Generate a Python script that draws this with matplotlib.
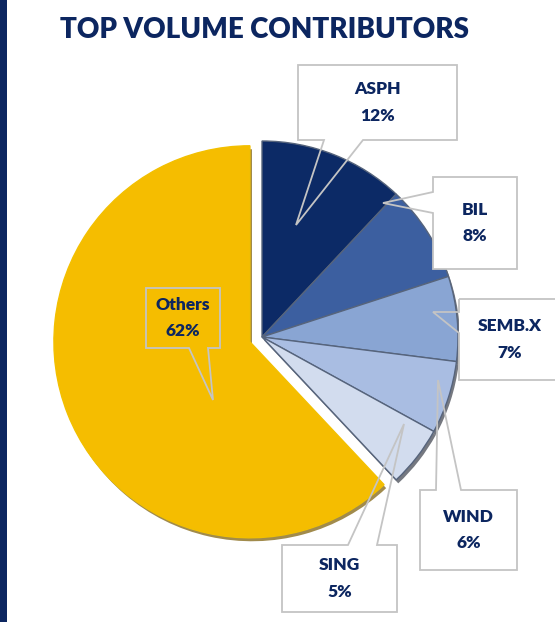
import matplotlib.pyplot as plt
import matplotlib.patheffects as pe
from matplotlib.patches import Rectangle, Polygon

plt.rcParams['font.family'] = ['Lato', 'DejaVu Sans']

labels = ['ASPH', 'BIL', 'SEMB.X', 'WIND', 'SING', 'Others']
shares = [12, 8, 7, 6, 5, 62]
colors = ['#0c2a66', '#3c5fa0', '#89a5d3', '#a9bde2', '#d2dcee', '#f5bd00']

# callout boxes in image pixels: (x0, y0, x1, y1), pointer base side, base points, tip
boxes = {
    'ASPH':   ((298, 65, 457, 140), 'bottom', (324, 363), (296, 225)),
    'BIL':    ((433, 177, 517, 269), 'left', (192, 213), (383, 203)),
    'SEMB.X': ((459, 299, 600, 380), 'left', (312, 333), (433, 312)),
    'WIND':   ((420, 490, 517, 570), 'top', (436, 461), (438, 380)),
    'SING':   ((282, 545, 397, 612), 'top', (348, 377), (404, 424)),
    'Others': ((146, 288, 220, 348), 'bottom', (189, 208), (213, 400)),
}

W, H = 555, 622
fig = plt.figure(figsize=(W / 100, H / 100), dpi=100)
ax = fig.add_axes([0, 0, 1, 1])


def fy(y):
    return H - y


# pie in pixel units, Others pulled out to the left
explode = [0, 0, 0, 0, 0, 13]
wedges, _ = ax.pie(shares, colors=colors, explode=explode, startangle=90,
                   counterclock=False, radius=196, center=(262, fy(337)),
                   frame=True, wedgeprops=dict(edgecolor='#56647c', linewidth=1))
ax.set_xlim(0, W)
ax.set_ylim(0, H)
ax.axis('off')
for i, w in enumerate(wedges):
    shade = '#7a5a00' if labels[i] == 'Others' else '#3a3f4a'
    w.set_path_effects([pe.SimplePatchShadow(offset=(1.5, -2.5), shadow_rgbFace=shade, alpha=0.7),
                        pe.Normal()])
wedges[-1].set_edgecolor('#f3c000')

# callouts
for name, share in zip(labels, shares):
    (x0, y0, x1, y1), side, base, tip = boxes[name]
    if name != 'Others':
        ax.add_patch(Rectangle((x0, fy(y1)), x1 - x0, y1 - y0, facecolor='white',
                               edgecolor='none', zorder=5))
    if side == 'bottom':
        pts = [(x0, y0), (x1, y0), (x1, y1), (base[1], y1), tip, (base[0], y1), (x0, y1)]
    elif side == 'top':
        pts = [(x0, y0), (base[0], y0), tip, (base[1], y0), (x1, y0), (x1, y1), (x0, y1)]
    else:
        pts = [(x0, y0), (x1, y0), (x1, y1), (x0, y1), (x0, base[1]), tip, (x0, base[0])]
    ax.add_patch(Polygon([(px, fy(py)) for px, py in pts], closed=True, fill=False,
                         edgecolor='#c4c4c4', linewidth=1.3, zorder=6))
    cx = (x0 + x1) / 2 if name != 'SEMB.X' else 510
    cy = (y0 + y1) / 2
    ax.text(cx, fy(cy), f'{name}\n{share}%', ha='center', va='center', fontsize=12.5,
            fontweight='heavy', color='#0c2660', linespacing=1.8, zorder=7)

ax.text(265, fy(30), 'TOP VOLUME CONTRIBUTORS', ha='center', va='center',
        fontsize=20, fontweight='heavy', color='#0c2660')

# left border strip
ax.add_patch(Rectangle((0, 0), 7, H, facecolor='#0c2660', edgecolor='none', zorder=8))

fig.savefig('out.png', dpi=100)
